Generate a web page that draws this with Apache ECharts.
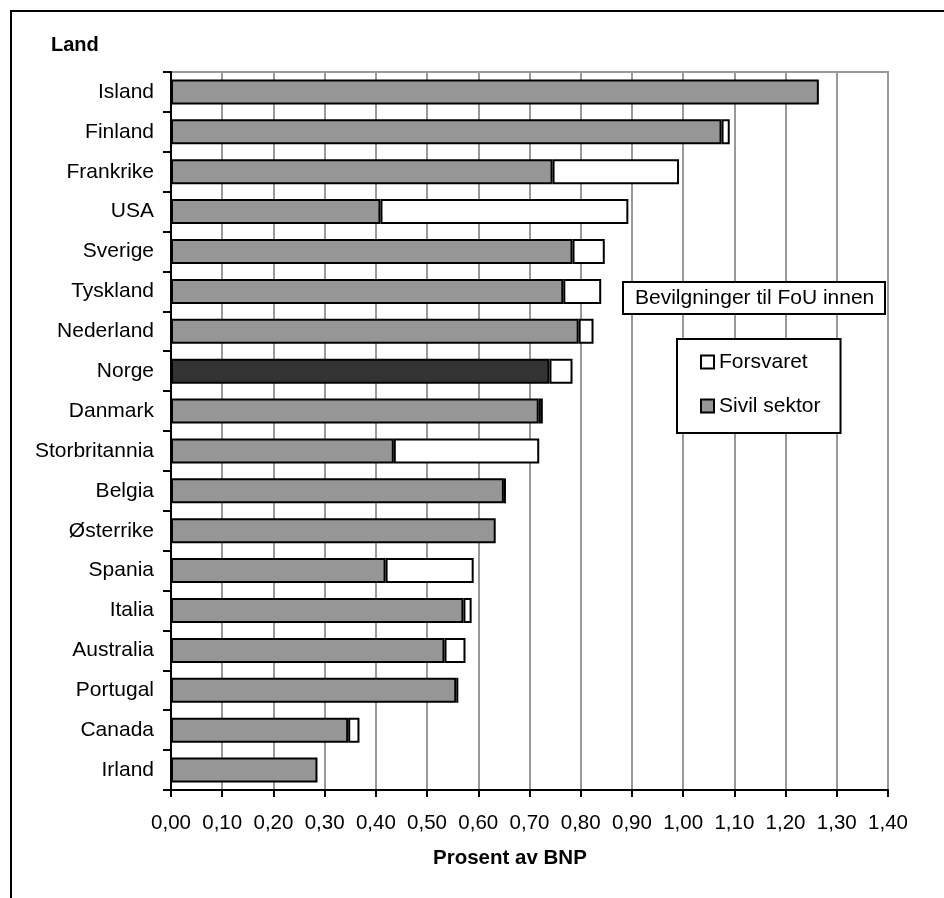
<!DOCTYPE html>
<html>
<head>
<meta charset="utf-8">
<script src="https://cdn.jsdelivr.net/npm/echarts@6/dist/echarts.min.js"></script>
<style>
  html, body { margin: 0; padding: 0; background: #fff; }
  #chart { width: 944px; height: 898px; }
</style>
</head>
<body>
<div id="chart"></div>
<script>
// Countries, top to bottom
const countries = ['Island','Finland','Frankrike','USA','Sverige','Tyskland','Nederland','Norge','Danmark','Storbritannia','Belgia','Østerrike','Spania','Italia','Australia','Portugal','Canada','Irland'];
// Civil sector R&D appropriations, % of GDP
const sivilSektor = [1.265,1.075,0.745,0.409,0.784,0.766,0.796,0.739,0.718,0.435,0.650,0.634,0.419,0.571,0.534,0.557,0.346,0.286];
// Defence R&D appropriations, % of GDP (stacked on top of civil)
const forsvaret = [0,0.016,0.247,0.484,0.063,0.074,0.029,0.045,0.008,0.284,0.004,0,0.172,0.016,0.041,0.004,0.022,0];
const xTicks = ['0,00','0,10','0,20','0,30','0,40','0,50','0,60','0,70','0,80','0,90','1,00','1,10','1,20','1,30','1,40'];

const FONT = '"Liberation Sans", Arial, sans-serif';
const GRAY = '#969696';
const DARK = '#333333';

const chart = echarts.init(document.getElementById('chart'), null, {renderer: 'canvas'});

const sivilData = sivilSektor.map((v, i) => countries[i] === 'Norge'
  ? {value: v, itemStyle: {color: DARK}} : v);
const forsData = forsvaret.map(v => v === 0 ? '-' : v);

chart.setOption({
  animation: false,
  backgroundColor: '#fff',
  textStyle: {fontFamily: FONT, color: '#000'},
  title: {
    text: 'Bevilgninger til FoU innen',
    left: 623, top: 282,
    padding: [5, 11, 5, 12],
    backgroundColor: '#fff',
    borderColor: '#000', borderWidth: 2,
    textStyle: {fontFamily: FONT, fontSize: 21, fontWeight: 'normal', color: '#000', lineHeight: 22}
  },
  legend: {
    data: ['Forsvaret', 'Sivil sektor'],
    orient: 'vertical',
    left: 677, top: 339,
    padding: [12, 20, 16, 23],
    itemGap: 22,
    itemWidth: 13, itemHeight: 13,
    icon: 'rect',
    backgroundColor: '#fff',
    borderColor: '#000', borderWidth: 2,
    textStyle: {fontFamily: FONT, fontSize: 21, color: '#000', lineHeight: 22},
    itemStyle: {borderColor: '#000', borderWidth: 2}
  },
  grid: {
    left: 171, top: 72, right: 56, bottom: 108,
    show: true, borderColor: '#999', borderWidth: 2
  },
  xAxis: {
    type: 'value', min: 0, max: 1.4, interval: 0.1,
    axisLine: {show: true, lineStyle: {color: '#000', width: 2}},
    axisTick: {show: true, length: 7, lineStyle: {color: '#000', width: 2}},
    axisLabel: {
      fontFamily: FONT, fontSize: 20.5, color: '#000', margin: 23,
      formatter: (v) => xTicks[Math.round(v * 10)]
    },
    splitLine: {show: true, lineStyle: {color: '#999', width: 2}}
  },
  yAxis: {
    type: 'category', data: countries, inverse: true,
    axisLine: {show: true, lineStyle: {color: '#000', width: 2}},
    axisTick: {show: true, length: 8, lineStyle: {color: '#000', width: 2}},
    axisLabel: {fontFamily: FONT, fontSize: 21, color: '#000', margin: 17},
    splitLine: {show: false}
  },
  series: [
    {
      name: 'Sivil sektor', type: 'bar', stack: 'fou',
      data: sivilData, barWidth: 25,
      itemStyle: {color: GRAY, borderColor: '#000', borderWidth: 2}
    },
    {
      name: 'Forsvaret', type: 'bar', stack: 'fou',
      data: forsData, barWidth: 25,
      itemStyle: {color: '#fff', borderColor: '#000', borderWidth: 2}
    }
  ],
  graphic: [
    {type: 'polyline', shape: {points: [[11, 898], [11, 11], [944, 11]]},
     style: {stroke: '#000', lineWidth: 2, fill: null}, z: 100},
    {type: 'text', left: 51, top: 35,
     style: {text: 'Land', font: 'bold 20px ' + FONT, fill: '#000'}},
    {type: 'text', left: 433, top: 848,
     style: {text: 'Prosent av BNP', font: 'bold 20.5px ' + FONT, fill: '#000'}}
  ]
});
</script>
</body>
</html>
